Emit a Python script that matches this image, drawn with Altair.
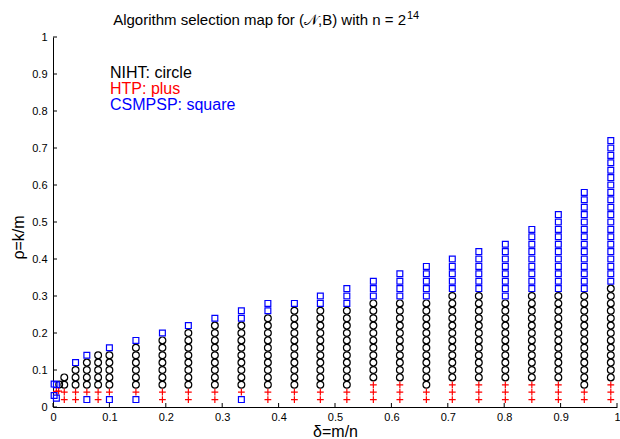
import altair as alt
import pandas as pd

# ---------------- data ----------------
# Column positions (delta = m/n) of the regular part of the map
col_delta = [0.020, 0.040, 0.060, 0.080, 0.100, 0.147, 0.194, 0.240, 0.287,
             0.334, 0.381, 0.428, 0.474, 0.521, 0.568, 0.615, 0.662, 0.708,
             0.755, 0.802, 0.849, 0.896, 0.942, 0.989]
# Winner per rho level (rho = 0.02, 0.04, ... from bottom to top)
# P = HTP (plus), C = NIHT (circle), S = CSMPSP (square)
col_winner = [
    "PP CC",
    "PP CCC S",
    "SP CCCC S",
    "PP CCCCC",
    "SP CCCCC S",
    "SP CCCCC C S",
    "PP CCCCC CC S",
    "PP CCCCC CCC S",
    "PP CCCCC CCCC S",
    "SP CCCCC CCCC SS",
    "PP CCCCC CCCCC SS",
    "PP CCCCC CCCCC C S",
    "PP CCCCC CCCCC C SS",
    "PP CCCCC CCCCC C SSS",
    "PPP CCCCC CCCCC C SSS",
    "PPP CCCCC CCCCC C SSSS",
    "PP CCCCC CCCCC CC SSSSS",
    "PPP CCCCC CCCCC CC SSSSS",
    "PPP CCCCC CCCCC CC SSSSS S",
    "PPP CCCCC CCCCC C SSSSS SSS",
    "PPP CCCCC CCCCC CC SSSSS SSSS",
    "PPP CCCCC CCCCC CC SSSSS SSSSS S",
    "PP CCCCC CCCCC CCC SSSSS SSSSS SSSS",
    "PPP CCCCC CCCCC CCC SSSSS SSSSS SSSSS SSSSS",
]
rho_step = 0.02

# Very small delta cluster near the origin
tiny_square_delta = [0.002, 0.002, 0.006, 0.006]
tiny_square_rho = [0.062, 0.031, 0.060, 0.024]
tiny_plus_delta = [0.006, 0.010]
tiny_plus_rho = [0.042, 0.043]
tiny_circle_delta = [0.011]
tiny_circle_rho = [0.061]

x_ticks = [0, 0.1, 0.2, 0.3, 0.4, 0.5, 0.6, 0.7, 0.8, 0.9, 1]
y_ticks = [0, 0.1, 0.2, 0.3, 0.4, 0.5, 0.6, 0.7, 0.8, 0.9, 1]

legend_labels = ["NIHT: circle", "HTP: plus", "CSMPSP: square"]
title_main = "Algorithm selection map for (\U0001D4A9,B) with n = 2"
title_sup = "14"

# ---------------- build table ----------------
alg_of = {"C": "NIHT", "P": "HTP", "S": "CSMPSP"}
rows = []
for d, code in zip(col_delta, col_winner):
    for i, c in enumerate(code.replace(" ", "")):
        rows.append({"delta": d, "rho": rho_step * (i + 1), "alg": alg_of[c]})
for d, r in zip(tiny_square_delta, tiny_square_rho):
    rows.append({"delta": d, "rho": r, "alg": "CSMPSP"})
for d, r in zip(tiny_plus_delta, tiny_plus_rho):
    rows.append({"delta": d, "rho": r, "alg": "HTP"})
for d, r in zip(tiny_circle_delta, tiny_circle_rho):
    rows.append({"delta": d, "rho": r, "alg": "NIHT"})
df = pd.DataFrame(rows)

W, H = 564, 370
FONT = "Liberation Sans"

xs = alt.Scale(domain=[0, 1], nice=False, zero=False)
ys = alt.Scale(domain=[0, 1], nice=False, zero=False)

x_enc = alt.X("delta:Q", scale=xs, axis=alt.Axis(
    values=x_ticks, format="~g", title="δ=m/n", ticks=False, grid=False,
    domainColor="black", domainWidth=1, labelColor="black", labelFont=FONT,
    labelFontSize=11, labelPadding=4, labelFlush=False,
    titleFont=FONT, titleFontSize=16, titleFontWeight="normal", titleColor="black",
    titleY=29, titleBaseline="alphabetic"))
y_enc = alt.Y("rho:Q", scale=ys, axis=alt.Axis(
    values=y_ticks, format="~g", title="ρ=k/m", ticks=False, grid=False,
    domainColor="black", domainWidth=1, labelColor="black", labelFont=FONT,
    labelFontSize=11, labelPadding=6, labelFlush=False,
    titleFont=FONT, titleFontSize=16, titleFontWeight="normal", titleColor="black",
    titleAngle=-90, titleX=-30, titleY=200, titleAlign="center",
    titleBaseline="alphabetic"))

base = alt.Chart(df)
circles = base.transform_filter(alt.datum.alg == "NIHT").mark_point(
    shape="circle", size=46, filled=False, stroke="black", strokeWidth=1.2, opacity=1
).encode(x=x_enc, y=y_enc)
pluses = base.transform_filter(alt.datum.alg == "HTP").mark_point(
    shape="M-1,0L1,0M0,-1L0,1", size=46, filled=False, stroke="#ff0000",
    strokeWidth=1.2, opacity=1
).encode(x=x_enc, y=y_enc)
squares = base.transform_filter(alt.datum.alg == "CSMPSP").mark_point(
    shape="square", size=34, filled=False, stroke="#0000ff", strokeWidth=1.2, opacity=1
).encode(x=x_enc, y=y_enc)

# inward tick marks
xt = alt.Chart(pd.DataFrame({"delta": x_ticks})).mark_rule(
    color="black", strokeWidth=1).encode(x=x_enc, y=alt.value(H), y2=alt.value(H - 4))
yt = alt.Chart(pd.DataFrame({"rho": y_ticks})).mark_rule(
    color="black", strokeWidth=1).encode(y=y_enc, x=alt.value(0), x2=alt.value(4))

one = pd.DataFrame({"k": [0]})
leg_colors = ["black", "#ff0000", "#0000ff"]
leg_layers = []
for i, (lab, col) in enumerate(zip(legend_labels, leg_colors)):
    leg_layers.append(
        alt.Chart(one).mark_text(align="left", baseline="alphabetic", font=FONT,
                                 fontSize=16, color=col).encode(
            x=alt.value(57), y=alt.value(41 + 16 * i), text=alt.value(lab)))

t1 = alt.Chart(one).mark_text(align="right", baseline="alphabetic", font=FONT,
                              fontSize=15, color="black").encode(
    x=alt.value(353), y=alt.value(-12), text=alt.value(title_main))
t2 = alt.Chart(one).mark_text(align="left", baseline="alphabetic", font=FONT,
                              fontSize=11, color="black").encode(
    x=alt.value(354), y=alt.value(-18), text=alt.value(title_sup))

chart = alt.layer(circles, pluses, squares, xt, yt, *leg_layers, t1, t2).properties(
    width=W, height=H,
    autosize=alt.AutoSizeParams(type="none"),
    padding={"left": 53, "top": 37, "right": 3, "bottom": 32},
    background="white",
).configure_view(stroke=None)

chart.save("out.html", embed_options={"renderer": "svg", "actions": False})
